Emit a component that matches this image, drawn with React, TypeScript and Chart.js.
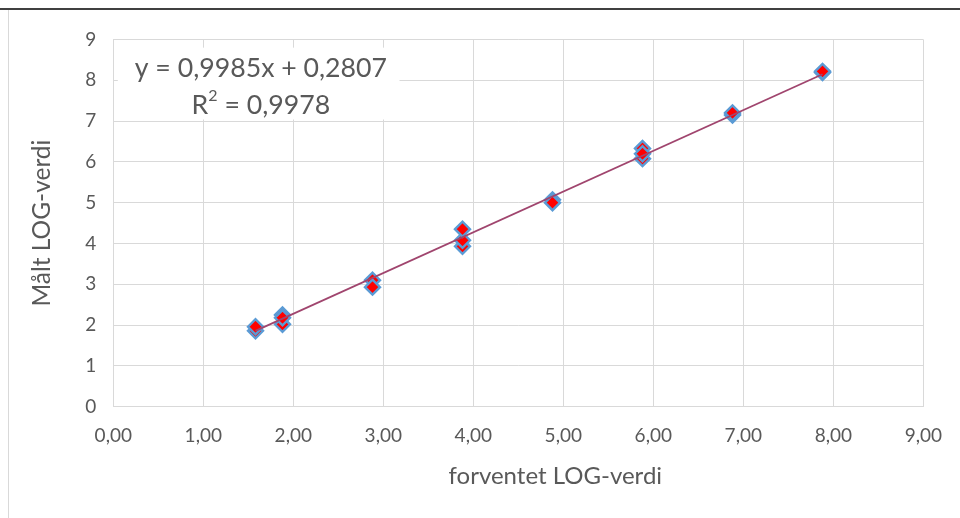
import React, { useEffect, useRef } from 'react';
import { Chart, registerables } from 'chart.js';

Chart.register(...registerables);

// ---- data ----
const expectedLog = [1.58, 1.58, 1.88, 1.88, 1.88, 2.88, 2.88, 3.88, 3.88, 3.88, 4.88, 4.88, 5.88, 5.88, 5.88, 6.88, 6.88, 7.88, 7.88];
const measuredLog = [1.86, 1.96, 2.02, 2.25, 2.18, 3.1, 2.93, 3.93, 4.08, 4.35, 5.07, 5.0, 6.08, 6.33, 6.2, 7.15, 7.2, 8.19, 8.22];
const xTickLabels = ['0,00', '1,00', '2,00', '3,00', '4,00', '5,00', '6,00', '7,00', '8,00', '9,00'];
const yTickLabels = ['0', '1', '2', '3', '4', '5', '6', '7', '8', '9'];
const slope = 0.9985;
const intercept = 0.2807;
const equationText = 'y = 0,9985x + 0,2807';
const r2Label = 'R';
const r2Sup = '2';
const r2Value = ' = 0,9978';
const xTitle = 'forventet LOG-verdi';
const yTitle = 'Målt LOG-verdi';

const FONT = 'Lato, "Noto Sans", sans-serif';
const TEXT = '#595959';
const GRID = '#d9d9d9';

export default function App() {
  const ref = useRef<HTMLCanvasElement | null>(null);

  useEffect(() => {
    if (!ref.current) return;
    const xMin = Math.min(...expectedLog);
    const xMax = Math.max(...expectedLog);
    const trend = [xMin, xMax].map((x) => ({ x, y: slope * x + intercept }));
    const points = expectedLog.map((x, i) => ({ x, y: measuredLog[i] }));

    const overlay = {
      id: 'overlay',
      beforeDatasetsDraw(chart: any) {
        const { ctx, scales } = chart;
        const x = scales.x, y = scales.y;
        ctx.save();
        const l = x.getPixelForValue(0.05), r = x.getPixelForValue(3.18);
        const t = y.getPixelForValue(8.8), b = y.getPixelForValue(7.04);
        ctx.fillStyle = '#ffffff';
        ctx.fillRect(l, t, r - l, b - t);
        ctx.fillStyle = TEXT;
        ctx.textBaseline = 'middle';
        ctx.textAlign = 'left';
        const cx = x.getPixelForValue(1.64);
        ctx.font = `26.7px ${FONT}`;
        const w1 = ctx.measureText(equationText).width;
        ctx.fillText(equationText, cx - w1 / 2, y.getPixelForValue(8.3));
        const wR = ctx.measureText(r2Label).width;
        const wV = ctx.measureText(r2Value).width;
        ctx.font = `16px ${FONT}`;
        const wS = ctx.measureText(r2Sup).width;
        const start = cx - (wR + wS + wV) / 2;
        const ly = y.getPixelForValue(7.39);
        ctx.font = `26.7px ${FONT}`;
        ctx.fillText(r2Label, start, ly);
        ctx.font = `16px ${FONT}`;
        ctx.fillText(r2Sup, start + wR, ly - 9);
        ctx.font = `26.7px ${FONT}`;
        ctx.fillText(r2Value, start + wR + wS, ly);
        ctx.restore();
      },
      afterDraw(chart: any) {
        const { ctx, chartArea } = chart;
        ctx.save();
        ctx.fillStyle = TEXT;
        ctx.font = `24px ${FONT}`;
        ctx.textAlign = 'center';
        ctx.textBaseline = 'middle';
        ctx.fillText(xTitle, (chartArea.left + chartArea.right) / 2 + 37, 476);
        ctx.strokeStyle = '#000000';
        ctx.lineWidth = 1.5;
        ctx.beginPath();
        ctx.moveTo(0, 9);
        ctx.lineTo(960, 9);
        ctx.stroke();
        ctx.strokeStyle = '#d9d9d9';
        ctx.lineWidth = 1;
        ctx.beginPath();
        ctx.moveTo(8.5, 10);
        ctx.lineTo(8.5, 518);
        ctx.stroke();
        ctx.restore();
      },
    };

    const chart = new Chart(ref.current, {
      type: 'scatter',
      data: {
        datasets: [
          {
            type: 'line',
            data: trend,
            borderColor: '#a0456e',
            borderWidth: 1.75,
            pointRadius: 0,
            fill: false,
            order: 0,
          } as any,
          {
            data: points,
            pointStyle: 'rectRot',
            pointRadius: 7.5,
            pointHoverRadius: 7.5,
            borderWidth: 2.4,
            backgroundColor: '#ff0000',
            borderColor: '#5b9bd5',
            order: 1,
          },
        ],
      },
      options: {
        responsive: false,
        animation: false,
        layout: { padding: { left: 0, right: 36, top: 39.5, bottom: 0 } },
        plugins: { legend: { display: false }, tooltip: { enabled: false } },
        events: [],
        scales: {
          x: {
            type: 'linear',
            min: 0,
            max: 9,
            ticks: {
              stepSize: 1,
              color: TEXT,
              font: { family: FONT, size: 19 },
              padding: 18,
              callback: (_v: any, i: number) => xTickLabels[i],
            },
            grid: { color: GRID, lineWidth: 1, drawTicks: false },
            border: { display: true, color: GRID, width: 1 },
            afterFit: (s: any) => { s.height = 111.3; },
          },
          y: {
            type: 'linear',
            min: 0,
            max: 9,
            ticks: {
              stepSize: 1,
              color: TEXT,
              font: { family: FONT, size: 19 },
              padding: 17,
              callback: (_v: any, i: number) => yTickLabels[i],
            },
            title: {
              display: true,
              text: yTitle,
              color: TEXT,
              font: { family: FONT, size: 24.5 },
              padding: { top: 27, bottom: 0 },
            },
            grid: { color: GRID, lineWidth: 1, drawTicks: false },
            border: { display: false },
            afterFit: (s: any) => { s.width = 113.3; },
          },
        },
      },
      plugins: [overlay],
    });
    return () => chart.destroy();
  }, []);

  return (
    <div style={{ position: 'absolute', left: 0, top: 0, width: 960, height: 518, background: '#fff' }}>
      <canvas ref={ref} width={960} height={518} style={{ display: 'block' }} />
    </div>
  );
}
